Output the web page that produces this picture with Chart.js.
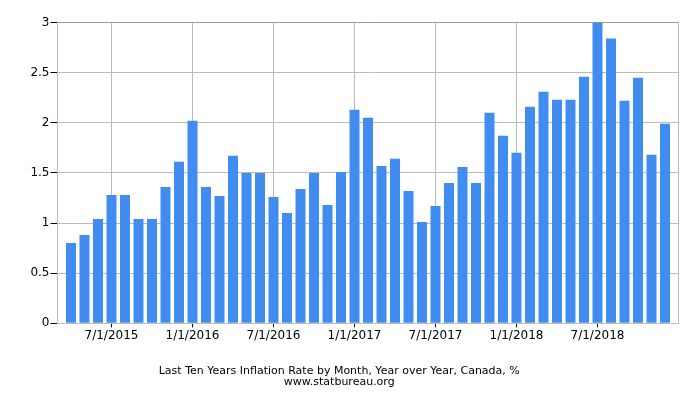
<!DOCTYPE html>
<html>
<head>
<meta charset="utf-8">
<script src="https://cdn.jsdelivr.net/npm/chart.js@4/dist/chart.umd.min.js"></script>
<style>
html,body{margin:0;padding:0;background:#fff;}
#c{display:block;}
</style>
</head>
<body>
<canvas id="c" width="700" height="400"></canvas>
<script>
const categories = [
  '4/1/2015','5/1/2015','6/1/2015','7/1/2015','8/1/2015','9/1/2015','10/1/2015','11/1/2015','12/1/2015',
  '1/1/2016','2/1/2016','3/1/2016','4/1/2016','5/1/2016','6/1/2016','7/1/2016','8/1/2016','9/1/2016','10/1/2016','11/1/2016','12/1/2016',
  '1/1/2017','2/1/2017','3/1/2017','4/1/2017','5/1/2017','6/1/2017','7/1/2017','8/1/2017','9/1/2017','10/1/2017','11/1/2017','12/1/2017',
  '1/1/2018','2/1/2018','3/1/2018','4/1/2018','5/1/2018','6/1/2018','7/1/2018','8/1/2018','9/1/2018','10/1/2018','11/1/2018','12/1/2018'
];
const inflation = [
  0.80, 0.88, 1.04, 1.28, 1.28, 1.04, 1.04, 1.36, 1.61,
  2.02, 1.36, 1.27, 1.67, 1.50, 1.50, 1.26, 1.10, 1.34, 1.50, 1.18, 1.51,
  2.13, 2.05, 1.57, 1.64, 1.32, 1.01, 1.17, 1.40, 1.56, 1.40, 2.10, 1.87,
  1.70, 2.16, 2.31, 2.23, 2.23, 2.46, 3.00, 2.84, 2.22, 2.45, 1.68, 1.99
];
const tickLabels = ['7/1/2015','1/1/2016','7/1/2016','1/1/2017','7/1/2017','1/1/2018','7/1/2018'];
const yTickLabels = ['0', '0.5', '1', '1.5', '2', '2.5', '3'];
const titleLines = ['Last Ten Years Inflation Rate by Month, Year over Year, Canada, %', 'www.statbureau.org'];

// one empty slot on each side of the bars
const labels = [''].concat(categories, ['']);
const values = [null].concat(inflation, [null]);
const lastIdx = labels.length - 1;

new Chart(document.getElementById('c'), {
  type: 'bar',
  data: {
    labels: labels,
    datasets: [{
      data: values,
      backgroundColor: '#418cf0',
      borderWidth: 0,
      categoryPercentage: 1,
      barPercentage: 0.74
    }]
  },
  options: {
    responsive: false,
    animation: false,
    devicePixelRatio: 1,
    layout: { padding: { top: 22.5, right: 21.5, left: 0, bottom: 0 } },
    plugins: {
      legend: { display: false },
      tooltip: { enabled: false },
      title: {
        display: true,
        position: 'bottom',
        text: titleLines,
        color: '#000',
        font: { family: 'DejaVu Sans', size: 11, weight: 'normal', lineHeight: 1.0 },
        padding: { top: 12.2, bottom: 12.5 }
      }
    },
    scales: {
      x: {
        type: 'category',
        offset: false,
        afterFit: (s) => { s.height = 30; },
        border: { display: true, color: '#bbb', width: 1 },
        grid: {
          offset: false,
          drawTicks: true,
          tickLength: 4,
          color: (ctx) => {
            const l = labels[ctx.index];
            if (tickLabels.includes(l)) return '#bbb';
            if (ctx.index === lastIdx) return '#bbb';
            return 'rgba(0,0,0,0)';
          },
          tickColor: (ctx) => tickLabels.includes(labels[ctx.index]) ? '#000' : 'rgba(0,0,0,0)'
        },
        ticks: {
          autoSkip: false,
          maxRotation: 0,
          minRotation: 0,
          padding: 1,
          color: '#000',
          font: { family: 'DejaVu Sans', size: 12 },
          callback: function(v, i) {
            const l = labels[i];
            return tickLabels.includes(l) ? l : '';
          }
        }
      },
      y: {
        min: 0,
        max: 3,
        afterFit: (s) => { s.width = 57.5; },
        border: { display: true, color: '#bbb', width: 1 },
        grid: {
          color: (ctx) => (ctx.tick && ctx.tick.value === 3) ? '#999' : '#bbb',
          tickColor: '#000',
          tickLength: 7,
          drawTicks: true
        },
        ticks: {
          stepSize: 0.5,
          padding: 1,
          color: '#000',
          font: { family: 'DejaVu Sans', size: 12 },
          callback: function(v, i) {
            return yTickLabels[i] !== undefined ? yTickLabels[i] : String(v);
          }
        }
      }
    }
  }
});
</script>
</body>
</html>
